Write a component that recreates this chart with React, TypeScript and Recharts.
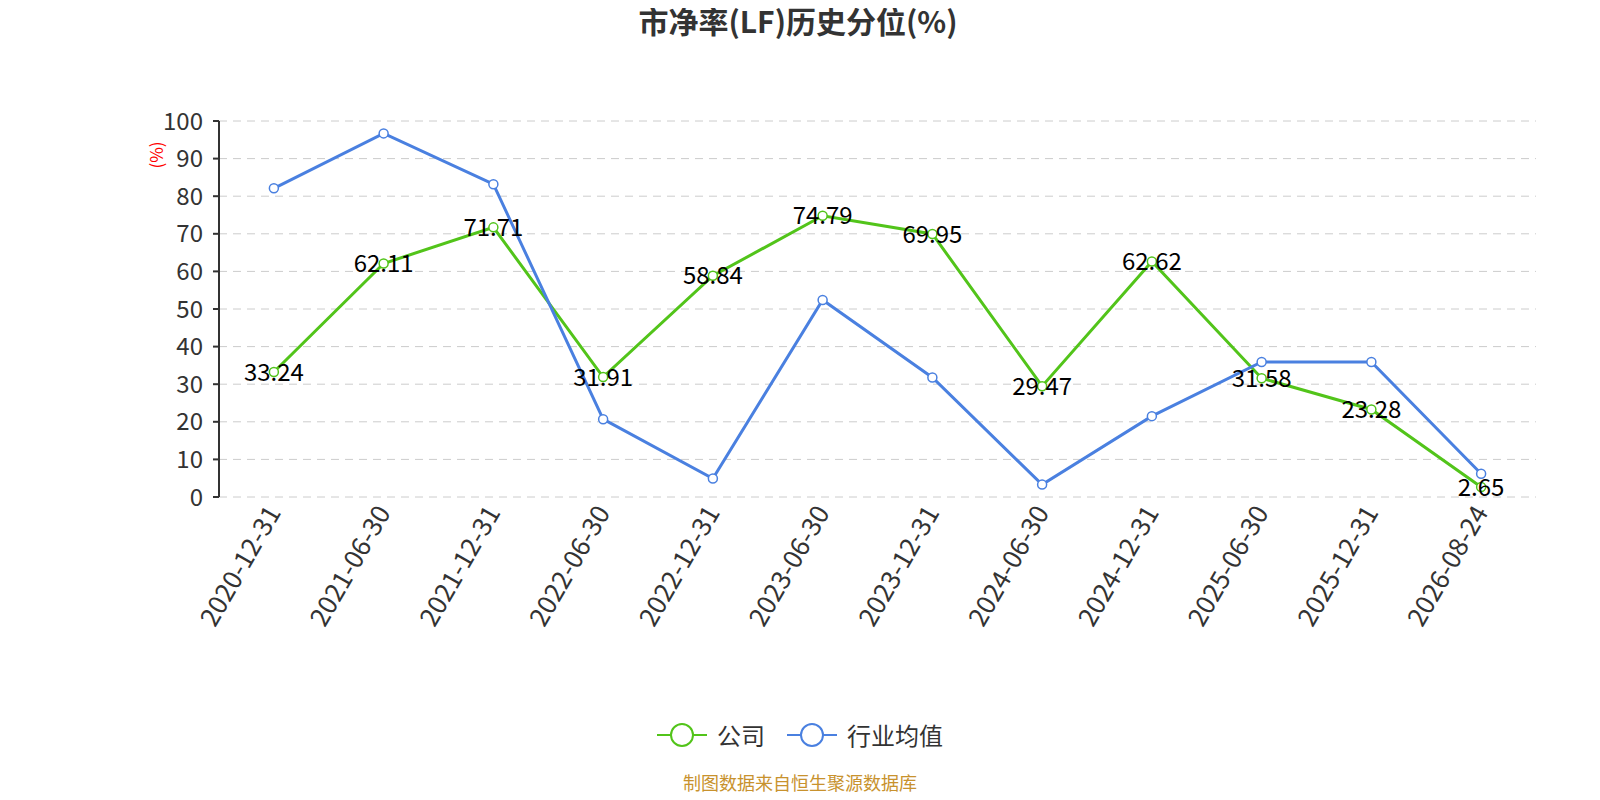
import { CartesianGrid, LabelList, Line, LineChart, XAxis, YAxis } from 'recharts';

const dates = [
  '2020-12-31', '2021-06-30', '2021-12-31', '2022-06-30', '2022-12-31', '2023-06-30',
  '2023-12-31', '2024-06-30', '2024-12-31', '2025-06-30', '2025-12-31', '2026-08-24',
];
const company = [33.24, 62.11, 71.71, 31.91, 58.84, 74.79, 69.95, 29.47, 62.62, 31.58, 23.28, 2.65];
const industry = [82.1, 96.7, 83.2, 20.7, 4.9, 52.4, 31.8, 3.3, 21.5, 35.9, 35.9, 6.2];
const yTicks = [0, 10, 20, 30, 40, 50, 60, 70, 80, 90, 100];
const boundaryTicks = [0, 1, 2, 3, 4, 5, 6, 7, 8, 9, 10, 11, 12];

const data = dates.map((d, i) => ({ date: d, company: company[i], industry: industry[i] }));

const GREEN = '#52c41a';
const BLUE = '#4a80e0';
const FONT = '"Noto Sans CJK SC", "Noto Sans", sans-serif';

// rotated date labels under the axis
const DateTick = (props: any) => {
  const { x, y, payload } = props;
  return (
    <text
      x={x}
      y={y}
      transform={`rotate(-60 ${x} ${y})`}
      textAnchor='end'
      dy='0.35em'
      fontSize={26}
      fill='#333'
      fontFamily={FONT}
    >
      {payload.value}
    </text>
  );
};

const LegendIcon = ({ color }: { color: string }) => (
  <svg width={50} height={26} style={{ display: 'block' }}>
    <line x1={0} y1={13} x2={50} y2={13} stroke={color} strokeWidth={2} />
    <circle cx={25} cy={13} r={11} fill='#fff' stroke={color} strokeWidth={2} />
  </svg>
);

export default function App() {
  return (
    <div style={{ position: 'relative', width: 1584, height: 784, fontFamily: FONT }}>
      <div
        style={{
          position: 'absolute', left: 540, top: -3, width: 500, height: 30, lineHeight: '30px',
          textAlign: 'center', fontSize: 30, fontWeight: 'bold', color: '#333',
        }}
      >
        市净率(LF)历史分位(%)
      </div>
      <div
        style={{
          position: 'absolute', left: 147, top: 147, fontSize: 17, color: 'red',
          transform: 'translate(-50%, -50%) rotate(-90deg)', whiteSpace: 'nowrap',
        }}
      >
        (%)
      </div>
      <LineChart
        width={1584}
        height={784}
        data={data}
        margin={{ top: 113, right: 56, left: 151, bottom: 165 }}
      >
        <CartesianGrid vertical={false} stroke='#ccc' strokeDasharray='8 6' />
        <XAxis
          xAxisId='edges'
          type='number'
          domain={[0, 12]}
          ticks={boundaryTicks}
          height={0}
          tick={false}
          tickSize={7}
          stroke='#333'
          strokeWidth={2}
          allowDataOverflow
        />
        <XAxis
          dataKey='date'
          scale='band'
          height={130}
          axisLine={false}
          tickLine={false}
          tickSize={0}
          tickMargin={11}
          interval={0}
          tick={<DateTick />}
        />
        <YAxis
          width={60}
          domain={[0, 100]}
          ticks={yTicks}
          interval={0}
          tickSize={6}
          tickMargin={10}
          stroke='#333'
          strokeWidth={2}
          tick={{ fontSize: 24, fill: '#333', fontFamily: FONT }}
        />
        <Line
          dataKey='company'
          stroke={GREEN}
          strokeWidth={3}
          dot={{ r: 4.5, fill: '#fff', stroke: GREEN, strokeWidth: 1.5 }}
          isAnimationActive={false}
        >
          <LabelList dataKey='company' position='center' fontSize={24} fill='#000' fontFamily={FONT} />
        </Line>
        <Line
          dataKey='industry'
          stroke={BLUE}
          strokeWidth={3}
          dot={{ r: 4.5, fill: '#fff', stroke: BLUE, strokeWidth: 1.5 }}
          isAnimationActive={false}
        />
      </LineChart>
      <div
        style={{
          position: 'absolute', left: 492, top: 709, width: 600, height: 36,
          display: 'flex', alignItems: 'center', justifyContent: 'center',
          fontSize: 24, color: '#333', lineHeight: '36px',
        }}
      >
        <LegendIcon color={GREEN} />
        <span style={{ marginLeft: 10, marginRight: 22 }}>公司</span>
        <LegendIcon color={BLUE} />
        <span style={{ marginLeft: 10 }}>行业均值</span>
      </div>
      <div
        style={{
          position: 'absolute', left: 492, top: 763, width: 600, textAlign: 'center',
          fontSize: 18, color: '#c8922e', lineHeight: '22px',
        }}
      >
        制图数据来自恒生聚源数据库
      </div>
    </div>
  );
}
